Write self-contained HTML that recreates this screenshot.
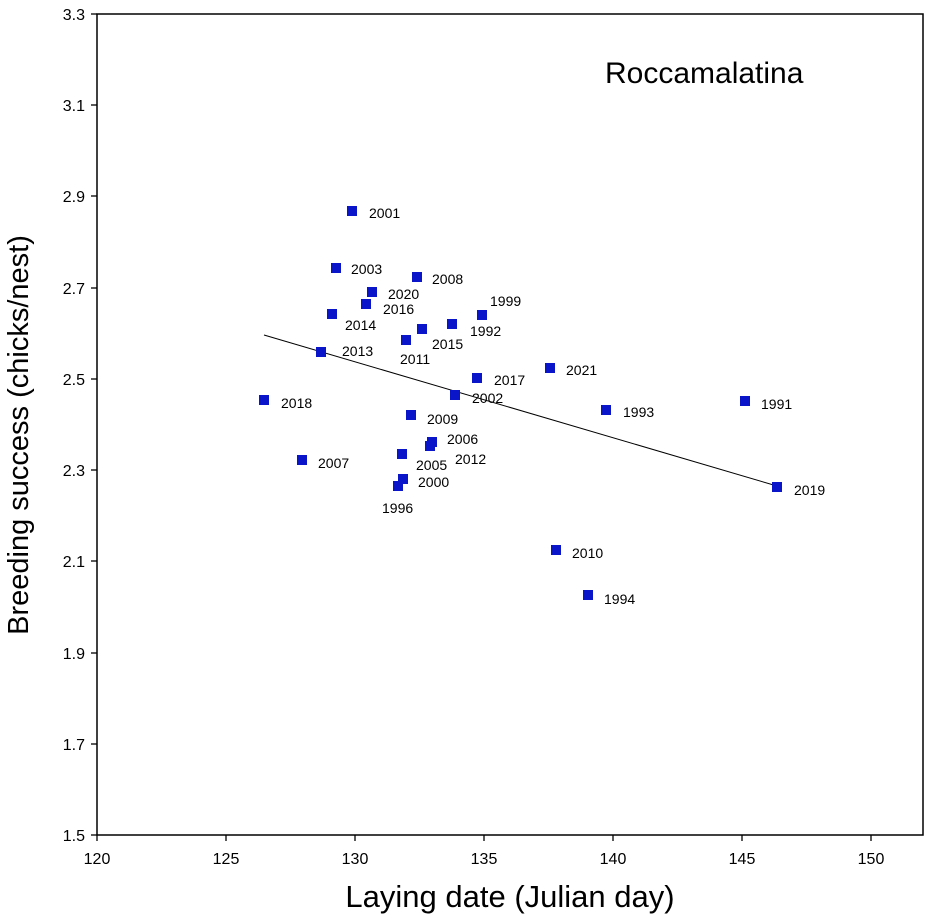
<!DOCTYPE html>
<html><head><meta charset="utf-8"><style>body{margin:0;background:#fff}</style></head><body>
<svg width="928" height="916" xmlns="http://www.w3.org/2000/svg" font-family="Liberation Sans, sans-serif">
<rect width="928" height="916" fill="#fff"/>
<rect x="97" y="14" width="826" height="821" fill="none" stroke="#000" stroke-width="1.5"/>
<g stroke="#000" stroke-width="1.3">
<line x1="91" y1="14" x2="97" y2="14"/><line x1="91" y1="105" x2="97" y2="105"/><line x1="91" y1="196" x2="97" y2="196"/><line x1="91" y1="288" x2="97" y2="288"/><line x1="91" y1="379" x2="97" y2="379"/><line x1="91" y1="470" x2="97" y2="470"/><line x1="91" y1="561" x2="97" y2="561"/><line x1="91" y1="653" x2="97" y2="653"/><line x1="91" y1="744" x2="97" y2="744"/><line x1="91" y1="835" x2="97" y2="835"/>
<line x1="97" y1="835" x2="97" y2="841"/><line x1="226" y1="835" x2="226" y2="841"/><line x1="355" y1="835" x2="355" y2="841"/><line x1="484" y1="835" x2="484" y2="841"/><line x1="613" y1="835" x2="613" y2="841"/><line x1="742" y1="835" x2="742" y2="841"/><line x1="871" y1="835" x2="871" y2="841"/>
</g>
<g font-size="16" fill="#000" text-anchor="end">
<text x="85" y="20">3.3</text><text x="85" y="111">3.1</text><text x="85" y="202">2.9</text><text x="85" y="294">2.7</text><text x="85" y="385">2.5</text><text x="85" y="476">2.3</text><text x="85" y="567">2.1</text><text x="85" y="659">1.9</text><text x="85" y="750">1.7</text><text x="85" y="841">1.5</text>
</g>
<g font-size="16" fill="#000" text-anchor="middle">
<text x="97" y="864">120</text><text x="226" y="864">125</text><text x="355" y="864">130</text><text x="484" y="864">135</text><text x="613" y="864">140</text><text x="742" y="864">145</text><text x="871" y="864">150</text>
</g>
<text x="510" y="907" font-size="31" text-anchor="middle">Laying date (Julian day)</text>
<text transform="translate(28,435) rotate(-90)" font-size="29" text-anchor="middle">Breeding success (chicks/nest)</text>
<text x="605" y="83" font-size="30">Roccamalatina</text>
<line x1="264" y1="335" x2="777" y2="486" stroke="#000" stroke-width="1"/>
<g fill="#0a14c8">
<rect x="347" y="206" width="10" height="10"/><rect x="331" y="263" width="10" height="10"/><rect x="412" y="272" width="10" height="10"/><rect x="367" y="287" width="10" height="10"/><rect x="361" y="299" width="10" height="10"/><rect x="327" y="309" width="10" height="10"/><rect x="477" y="310" width="10" height="10"/><rect x="417" y="324" width="10" height="10"/><rect x="447" y="319" width="10" height="10"/><rect x="401" y="335" width="10" height="10"/><rect x="316" y="347" width="10" height="10"/><rect x="545" y="363" width="10" height="10"/><rect x="472" y="373" width="10" height="10"/><rect x="450" y="390" width="10" height="10"/><rect x="259" y="395" width="10" height="10"/><rect x="740" y="396" width="10" height="10"/><rect x="601" y="405" width="10" height="10"/><rect x="406" y="410" width="10" height="10"/><rect x="427" y="437" width="10" height="10"/><rect x="425" y="441" width="10" height="10"/><rect x="397" y="449" width="10" height="10"/><rect x="297" y="455" width="10" height="10"/><rect x="398" y="474" width="10" height="10"/><rect x="393" y="481" width="10" height="10"/><rect x="772" y="482" width="10" height="10"/><rect x="551" y="545" width="10" height="10"/><rect x="583" y="590" width="10" height="10"/>
</g>
<g font-size="14" fill="#000">
<text x="369" y="218">2001</text><text x="351" y="274">2003</text><text x="432" y="284">2008</text><text x="388" y="299">2020</text><text x="383" y="314">2016</text><text x="345" y="330">2014</text><text x="490" y="306">1999</text><text x="432" y="349">2015</text><text x="470" y="336">1992</text><text x="400" y="364">2011</text><text x="342" y="356">2013</text><text x="566" y="375">2021</text><text x="494" y="385">2017</text><text x="472" y="403">2002</text><text x="281" y="408">2018</text><text x="761" y="409">1991</text><text x="623" y="417">1993</text><text x="427" y="424">2009</text><text x="447" y="444">2006</text><text x="455" y="464">2012</text><text x="416" y="470">2005</text><text x="318" y="468">2007</text><text x="418" y="487">2000</text><text x="382" y="513">1996</text><text x="794" y="495">2019</text><text x="572" y="558">2010</text><text x="604" y="604">1994</text>
</g>
</svg>
</body></html>
